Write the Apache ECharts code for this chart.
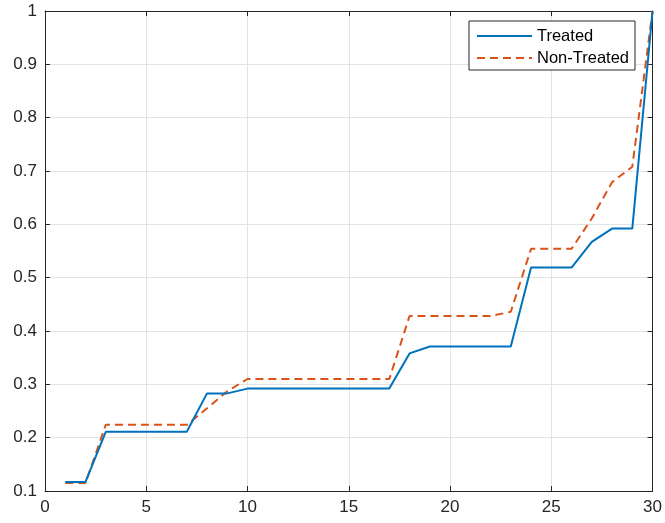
<!DOCTYPE html>
<html>
<head>
<meta charset="utf-8">
<script src="https://cdn.jsdelivr.net/npm/echarts@6/dist/echarts.min.js"></script>
<style>html,body{margin:0;padding:0;background:#fff;}#c{width:665px;height:523px;}</style>
</head>
<body>
<div id="c"></div>
<script>
const xValues = [1,2,3,4,5,6,7,8,9,10,11,12,13,14,15,16,17,18,19,20,21,22,23,24,25,26,27,28,29,30];
const treated = [0.117,0.117,0.211,0.211,0.211,0.211,0.211,0.283,0.283,0.292,0.292,0.292,0.292,0.292,0.292,0.292,0.292,0.358,0.371,0.371,0.371,0.371,0.371,0.519,0.519,0.519,0.567,0.592,0.592,1.0];
const nonTreated = [0.115,0.115,0.224,0.224,0.224,0.224,0.224,0.255,0.287,0.31,0.31,0.31,0.31,0.31,0.31,0.31,0.31,0.428,0.428,0.428,0.428,0.428,0.436,0.554,0.554,0.554,0.611,0.679,0.708,1.0];
const seriesNames = ['Treated','Non-Treated'];

const font = 'Liberation Sans, Arial, sans-serif';
const axisColor = '#262626';
const chart = echarts.init(document.getElementById('c'));
const pairs = arr => xValues.map((x,i)=>[x,arr[i]]);
const baseAxis = {
  axisLine:{show:true,onZero:false,lineStyle:{color:axisColor,width:1}},
  axisTick:{show:true,inside:true,length:5,lineStyle:{color:axisColor}},
};
chart.setOption({
  backgroundColor:'#fff',
  animation:false,
  grid:{left:45,right:12,top:11,bottom:32},
  legend:{
    orient:'vertical',right:30,top:21,
    data:seriesNames,
    backgroundColor:'#fff',borderColor:axisColor,borderWidth:1,borderRadius:0,
    padding:[5,6,2,7],itemGap:2,itemWidth:55,itemHeight:18,
    itemStyle:{color:'transparent',borderWidth:0,opacity:0},
    textStyle:{fontFamily:font,fontSize:16.5,color:'#000',lineHeight:20}
  },
  xAxis:[
    Object.assign({type:'value',min:0,max:30,interval:5,position:'bottom',
      axisLabel:{fontFamily:font,fontSize:17,color:axisColor,margin:8},
      splitLine:{show:true,lineStyle:{color:'#e3e3e3',width:1}}},baseAxis),
    Object.assign({type:'value',min:0,max:30,interval:5,position:'top',
      axisLabel:{show:false},splitLine:{show:false}},baseAxis)
  ],
  yAxis:[
    Object.assign({type:'value',min:0.1,max:1,interval:0.1,position:'left',
      axisLabel:{fontFamily:font,fontSize:17,color:axisColor,margin:8,
        formatter:v=>String(Math.round(v*10)/10)},
      splitLine:{show:true,lineStyle:{color:'#e3e3e3',width:1}}},baseAxis),
    Object.assign({type:'value',min:0.1,max:1,interval:0.1,position:'right',
      axisLabel:{show:false},splitLine:{show:false}},baseAxis)
  ],
  series:[
    {name:seriesNames[0],type:'line',data:pairs(treated),symbol:'none',
      lineStyle:{color:'#0072BD',width:2},itemStyle:{color:'#0072BD'},z:3},
    {name:seriesNames[1],type:'line',data:pairs(nonTreated),symbol:'none',
      lineStyle:{color:'#D95319',width:2,type:[8,5]},itemStyle:{color:'#D95319'},z:2}
  ]
});
</script>
</body>
</html>
